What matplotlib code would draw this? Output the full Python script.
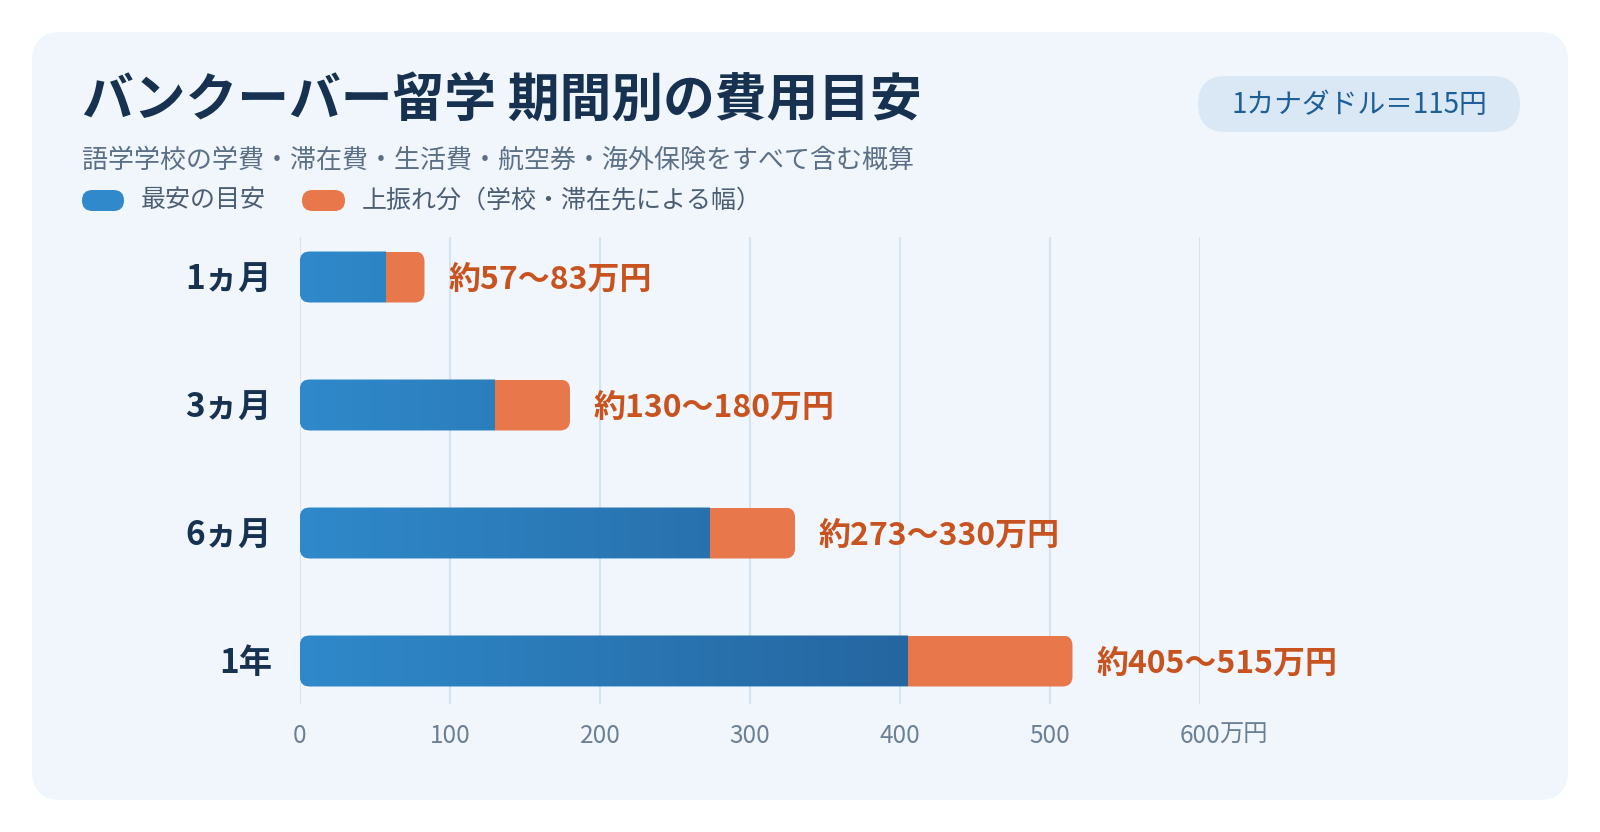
import numpy as np
import matplotlib
matplotlib.use("Agg")
import matplotlib.pyplot as plt
from matplotlib.patches import FancyBboxPatch
from matplotlib.colors import to_rgb

plt.rcParams['font.family'] = ['Noto Sans CJK JP', 'DejaVu Sans']

# data
periods = ["1ヵ月", "3ヵ月", "6ヵ月", "1年"]
low = [57, 130, 273, 405]      # 最安の目安 (万円)
high = [83, 180, 330, 515]     # 上振れ込み (万円)
xticks = [0, 100, 200, 300, 400, 500, 600]

title = "バンクーバー留学 期間別の費用目安"
subtitle = "語学学校の学費・滞在費・生活費・航空券・海外保険をすべて含む概算"
badge = "1カナダドル＝115円"
legend_labels = ["最安の目安", "上振れ分（学校・滞在先による幅）"]

W, H = 1600, 832
BLUE0, BLUE1 = "#2f89ca", "#2566a0"
ORANGE = "#e8774b"
LABEL_ORANGE = "#c8531f"
NAVY = "#163250"
GRID = "#d6e2ed"
TICK = "#6b7f95"

fig = plt.figure(figsize=(W / 100, H / 100), dpi=100)
fig.patch.set_facecolor("white")


def px_box(x0, y0, x1, y1, r, color, z=-5):
    # rounded box in pixel coords measured from top-left
    p = FancyBboxPatch((x0, H - y1), x1 - x0, y1 - y0,
                       boxstyle=f"round,pad=0,rounding_size={r}",
                       transform=None, facecolor=color, edgecolor="none", zorder=z)
    fig.patches.append(p)
    return p


# card
px_box(32, 32, 1568, 800, 30, "#f0f6fc", z=-10)

# header
fig.text(82 / W, 1 - 100 / H, title, fontsize=37.3, fontweight="bold", color=NAVY,
         ha="left", va="center")
fig.text(82 / W, 1 - 160 / H, subtitle, fontsize=18.7, color="#5b6f86",
         ha="left", va="center")

px_box(1198, 76, 1520, 132, 28, "#dae8f5")
fig.text(1359 / W, 1 - 105 / H, badge, fontsize=20, color="#1e5f98",
         ha="center", va="center")

# legend
px_box(82, 190, 124, 211, 10.5, BLUE0)
fig.text(141 / W, 1 - 200 / H, legend_labels[0], fontsize=18, color="#4b5e74",
         ha="left", va="center")
px_box(302, 190, 345, 211, 10.5, ORANGE)
fig.text(362 / W, 1 - 200 / H, legend_labels[1], fontsize=18, color="#4b5e74",
         ha="left", va="center")

# plot area
ax_l, ax_r, ax_t, ax_b = 300, 1200, 237, 704
ax = fig.add_axes([ax_l / W, 1 - ax_b / H, (ax_r - ax_l) / W, (ax_b - ax_t) / H])
ax.set_facecolor("none")
for s in ax.spines.values():
    s.set_visible(False)

row_px = 128
y_top = -40 / row_px
y_bot = len(periods) - 1 + 43 / row_px
xmax = xticks[-1]
bar_h = 51 / row_px

ax.set_xlim(0, xmax)
ax.set_ylim(y_bot, y_top)
ax.set_xticks(xticks)
ax.set_xticklabels([str(t) for t in xticks])
ax.tick_params(axis="x", length=0, pad=14, labelsize=17.5, labelcolor=TICK)
ax.set_yticks([])
ax.grid(axis="x", color=GRID, linewidth=1.5)
ax.set_axisbelow(True)

xu_per_px = xmax / (ax_r - ax_l)
yu_per_px = 1 / row_px
radius = 10 * xu_per_px
aspect = yu_per_px / xu_per_px
text_dy = 3 * yu_per_px

c0, c1 = np.array(to_rgb(BLUE0)), np.array(to_rgb(BLUE1))
max_low = max(low)

for i, (lo, hi) in enumerate(zip(low, high)):
    clip = FancyBboxPatch((0, i - bar_h / 2), hi, bar_h,
                          boxstyle=f"round,pad=0,rounding_size={radius}",
                          mutation_aspect=aspect, facecolor="none",
                          edgecolor="none", transform=ax.transData)
    ax.add_patch(clip)
    b1 = ax.barh(i, lo, height=bar_h, color=BLUE0, zorder=2)
    b2 = ax.barh(i, hi - lo, left=lo, height=bar_h, color=ORANGE, zorder=2)
    for r in list(b1) + list(b2):
        r.set_clip_path(clip)
    xs = np.linspace(0, lo, 200) / max_low
    grad = c0[None, :] + (c1 - c0)[None, :] * xs[:, None]
    im = ax.imshow(grad[None, :, :], extent=[0, lo, i + bar_h / 2, i - bar_h / 2],
                   aspect="auto", interpolation="bilinear", zorder=3)
    im.set_clip_path(clip)

    ax.text(-28 * xu_per_px, i + text_dy, periods[i], fontsize=24, fontweight="bold",
            color=NAVY, ha="right", va="center")
    ax.text(hi + 24 * xu_per_px, i + text_dy, f"約{lo}〜{hi}万円", fontsize=23,
            fontweight="bold", color=LABEL_ORANGE, ha="left", va="center",
            clip_on=False)

ax.set_xlim(0, xmax)
ax.set_ylim(y_bot, y_top)

fig.text(1219 / W, 1 - 735 / H, "万円", fontsize=17.5, color=TICK,
         ha="left", va="center")

fig.savefig("out.png", dpi=100, facecolor="white")
